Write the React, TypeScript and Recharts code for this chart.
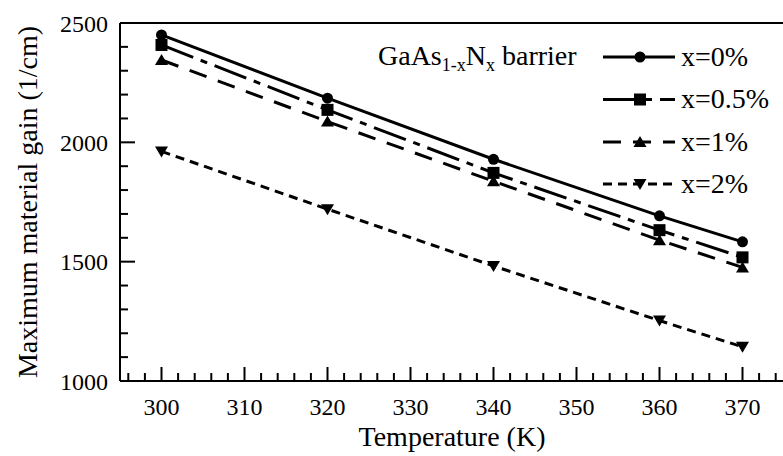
import React from 'react';
import { LineChart, Line, XAxis, YAxis, Legend, ReferenceLine } from 'recharts';

const temperatures = [300, 320, 340, 360, 370];
const gainX0 = [2450, 2185, 1929, 1692, 1583];
const gainX05 = [2408, 2136, 1872, 1632, 1518];
const gainX1 = [2345, 2087, 1837, 1590, 1476];
const gainX2 = [1962, 1720, 1482, 1253, 1143];
const seriesNames = ['x=0%', 'x=0.5%', 'x=1%', 'x=2%'];

const xTicks = [296, 298, 300, 302, 304, 306, 308, 310, 312, 314, 316, 318, 320, 322, 324, 326, 328, 330, 332, 334, 336, 338, 340, 342, 344, 346, 348, 350, 352, 354, 356, 358, 360, 362, 364, 366, 368, 370, 372, 374];
const xMajorLabels = [300, 310, 320, 330, 340, 350, 360, 370];
const yTicks = [1000, 1100, 1200, 1300, 1400, 1500, 1600, 1700, 1800, 1900, 2000, 2100, 2200, 2300, 2400, 2500];
const yMajorLabels = [1000, 1500, 2000, 2500];

const data = temperatures.map((t, i) => ({
  t,
  s0: gainX0[i],
  s05: gainX05[i],
  s1: gainX1[i],
  s2: gainX2[i],
}));

const FONT = 'Liberation Serif, DejaVu Serif, serif';
const txt = (size: number) => ({ fontFamily: FONT, fontSize: size });

type Shape = 'circle' | 'square' | 'triUp' | 'triDown';

const styles: { key: string; dash?: string; shape: Shape }[] = [
  { key: 's0', dash: undefined, shape: 'circle' },
  { key: 's05', dash: '34 8 7 8', shape: 'square' },
  { key: 's1', dash: '18 12', shape: 'triUp' },
  { key: 's2', dash: '9 6', shape: 'triDown' },
];

function markerEl(shape: Shape, cx: number, cy: number, key?: any) {
  if (shape === 'circle') return <circle key={key} cx={cx} cy={cy} r={5.5} fill="#000" />;
  if (shape === 'square') return <rect key={key} x={cx - 6} y={cy - 6} width={12} height={12} fill="#000" />;
  if (shape === 'triUp')
    return <polygon key={key} points={`${cx},${cy - 6} ${cx + 6.5},${cy + 5} ${cx - 6.5},${cy + 5}`} fill="#000" />;
  return <polygon key={key} points={`${cx},${cy + 6} ${cx + 6.5},${cy - 5} ${cx - 6.5},${cy - 5}`} fill="#000" />;
}

const XTick = (props: any) => {
  const { x, y, payload } = props;
  const v = payload.value;
  const major = xMajorLabels.includes(v);
  return (
    <g>
      <line x1={x} y1={y} x2={x} y2={y - (major ? 14 : 8)} stroke="#000" strokeWidth={2} />
      {major && (
        <text x={x} y={y + 34} textAnchor="middle" style={txt(24)} fill="#000">
          {v}
        </text>
      )}
    </g>
  );
};

const YTick = (props: any) => {
  const { x, y, payload } = props;
  const v = payload.value;
  const major = yMajorLabels.includes(v);
  return (
    <g>
      <line x1={x} y1={y} x2={x + (major ? 15 : 8)} y2={y} stroke="#000" strokeWidth={2} />
      {major && (
        <text x={x - 12} y={y + 8.5} textAnchor="end" style={txt(24)} fill="#000">
          {v}
        </text>
      )}
    </g>
  );
};

const renderLegend = () => {
  const rowsY = [57, 99.5, 142, 184];
  return (
    <svg width={783} height={456} style={{ position: 'absolute', left: 0, top: 0, pointerEvents: 'none' }}>
      <text x={378} y={65} style={txt(28)} fill="#000">
        GaAs
        <tspan style={{ fontSize: 18 }} dy={6}>1-x</tspan>
        <tspan dy={-6}>N</tspan>
        <tspan style={{ fontSize: 18 }} dy={6}>x</tspan>
        <tspan dy={-6} style={{ whiteSpace: 'pre' }}> barrier</tspan>
      </text>
      {styles.map((s, i) => (
        <g key={s.key}>
          <line x1={603} y1={rowsY[i]} x2={675} y2={rowsY[i]} stroke="#000" strokeWidth={3} strokeDasharray={s.dash} />
          {markerEl(s.shape, 640, rowsY[i])}
          <text x={681} y={rowsY[i] + 8.5} style={txt(28)} fill="#000">
            {seriesNames[i]}
          </text>
        </g>
      ))}
    </svg>
  );
};

const YLabel = () => (
  <text x={36.5} y={202} transform="rotate(-90, 36.5, 202)" textAnchor="middle" style={txt(28)} fill="#000">
    Maximum material gain (1/cm)
  </text>
);

const XLabel = () => (
  <text x={452} y={446} textAnchor="middle" style={txt(28)} fill="#000">
    Temperature (K)
  </text>
);

export default function App() {
  return (
    <div style={{ position: 'absolute', left: 0, top: 0, width: 783, height: 456, background: '#fff' }}>
      <LineChart width={783} height={456} data={data} margin={{ top: 23, right: -1, bottom: 0, left: 0 }}>
        <XAxis
          dataKey="t"
          type="number"
          domain={[295, 375]}
          ticks={xTicks}
          interval={0}
          tickSize={0}
          tickMargin={0}
          height={75}
          tickLine={false}
          axisLine={{ stroke: '#000', strokeWidth: 2 }}
          tick={<XTick />}
          label={{ content: <XLabel /> }}
          allowDataOverflow
        />
        <YAxis
          type="number"
          domain={[1000, 2500]}
          ticks={yTicks}
          interval={0}
          tickSize={0}
          tickMargin={0}
          width={120}
          tickLine={false}
          axisLine={{ stroke: '#000', strokeWidth: 2 }}
          tick={<YTick />}
          label={{ content: <YLabel /> }}
          allowDataOverflow
        />
        <ReferenceLine y={2500} stroke="#000" strokeWidth={2} />
        {styles.map((s) => (
          <Line
            key={s.key}
            type="linear"
            dataKey={s.key}
            stroke="#000"
            strokeWidth={3}
            strokeDasharray={s.dash}
            isAnimationActive={false}
            dot={(p: any) => markerEl(s.shape, p.cx, p.cy, `${s.key}-${p.index}`)}
            activeDot={false}
          />
        ))}
        <Legend
          content={renderLegend}
          layout="horizontal"
          verticalAlign="middle"
          align="center"
          wrapperStyle={{ position: 'absolute', left: 0, top: 0, width: 783, height: 456, pointerEvents: 'none' }}
        />
      </LineChart>
    </div>
  );
}
